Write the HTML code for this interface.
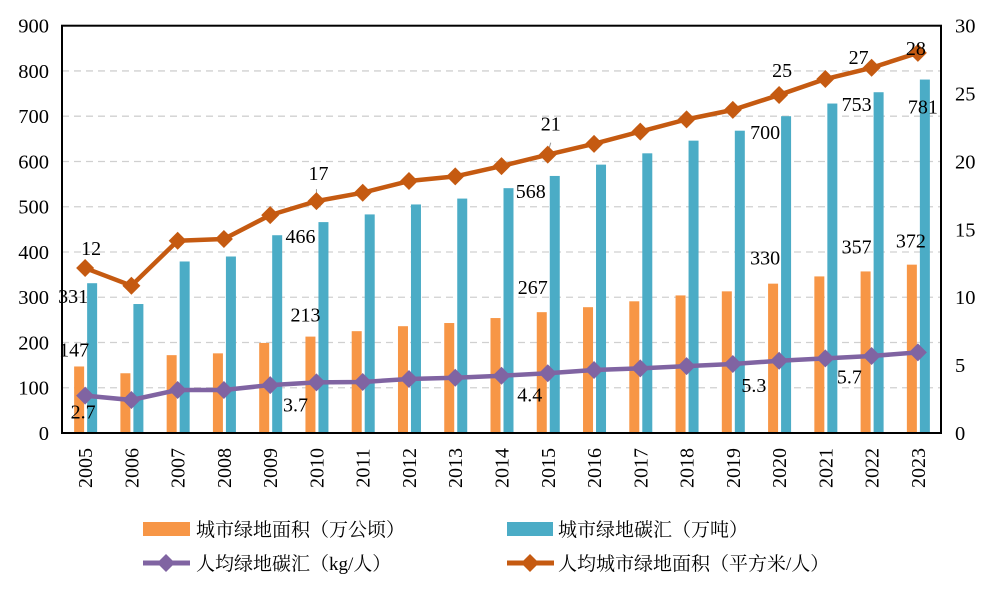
<!DOCTYPE html>
<html><head><meta charset="utf-8"><style>
body{margin:0;background:#fff;}
svg{display:block;font-family:"Liberation Serif","Noto Serif CJK SC",serif;}
</style></head><body>
<svg id="chart" width="994" height="599" viewBox="0 0 994 599" xmlns="http://www.w3.org/2000/svg"></svg>
<script>
const years=["2005","2006","2007","2008","2009","2010","2011","2012","2013","2014","2015","2016","2017","2018","2019","2020","2021","2022","2023"];
const areaValues=[147,132,172,176,199,213,225,236,243,254,267,278,291,304,313,330,346,357,372];
const sinkValues=[331,285,379,390,437,466,483,505,518,541,568,593,618,646,668,700,728,753,781];
const perCapitaSink=[2.75,2.43,3.17,3.17,3.53,3.73,3.76,3.98,4.07,4.22,4.4,4.64,4.76,4.93,5.08,5.32,5.5,5.67,5.94];
const perCapitaArea=[12.15,10.85,14.16,14.29,16.05,17.08,17.7,18.56,18.9,19.66,20.5,21.3,22.2,23.1,23.8,24.9,26.07,26.9,28.0];
const leftTicks=[0,100,200,300,400,500,600,700,800,900];
const rightTicks=[0,5,10,15,20,25,30];
const areaLabels=[[0,"147"],[5,"213"],[10,"267"],[15,"330"],[17,"357"],[18,"372"]];
const sinkLabels=[[0,"331"],[5,"466"],[10,"568"],[15,"700"],[17,"753"],[18,"781"]];
const pcSinkLabels=[[0,"2.7"],[5,"3.7"],[10,"4.4"],[14,"5.3"],[16,"5.7"]];
const pcAreaLabels=[[0,"12"],[5,"17"],[10,"21"],[15,"25"],[17,"27"],[18,"28"]];
// label placement offsets (style, not data): [dx, dy]
const areaOff=[[-11,-10],[-11,-15],[-15,-18],[-14,-19],[-15,-18],[-7,-17]];
const sinkOff=[[-12,20],[-16,21],[-17,22],[-14,23],[-15,19],[5,34]];
const pcSinkOff=[[-2,23],[-21,29],[-18,28],[21,28],[24,25]];
const pcAreaOff=[[6,-13],[2,-21],[3,-24],[3,-18],[-13,-4],[-2,2]];

const NS="http://www.w3.org/2000/svg";
const svg=document.getElementById('chart');
const L=62,R=941,T=25.7,B=433;
const band=(R-L)/years.length;
const xc=i=>L+band*(i+0.5);
const yL=v=>B-(v/900)*(B-T);
const yR=v=>B-(v/30)*(B-T);
function mk(tag,attrs,parent){const e=document.createElementNS(NS,tag);for(const k in attrs)e.setAttribute(k,attrs[k]);(parent||svg).appendChild(e);return e;}
function txt(x,y,s,anchor,size,parent){const t=mk('text',{x:x,y:y,'text-anchor':anchor||'middle','font-size':size||20,fill:'#000'},parent);t.textContent=s;return t;}

leftTicks.forEach(v=>{if(v===0||v===900)return;const g=mk('line',{x1:L,x2:R,y1:yL(v),y2:yL(v),stroke:'#d0d0d0','stroke-width':1.3,'stroke-dasharray':'7,5'});

});
leftTicks.forEach(v=>{const t=txt(L-13,yL(v)+7,String(v),'end',20.5);

});
rightTicks.forEach(v=>{const t=txt(R+14,yR(v)+7,String(v),'start',20.5);

});
years.forEach((y,i)=>{
 const a=mk('rect',{x:xc(i)-11,y:yL(areaValues[i]),width:10,height:B-yL(areaValues[i]),fill:'#F79646'});
 
 
 const s=mk('rect',{x:xc(i)+2,y:yL(sinkValues[i]),width:10,height:B-yL(sinkValues[i]),fill:'#4BACC6'});
 
 
 const lab=txt(0,0,y,'middle',20);
 lab.setAttribute('transform','translate('+(xc(i)+7)+',468) rotate(-90)');
 
 
});
// leader lines for 17 and 21
[[5,0],[10,1]].forEach(([i,k])=>{const x=xc(i),y=yR(perCapitaArea[i]);
 const l=mk('line',{x1:x,y1:y-2,x2:x+(k?3:0),y2:y-12,stroke:'#999','stroke-width':1});
 
 });
function series(vals,color,name){
 const pts=vals.map((v,i)=>xc(i)+','+yR(v)).join(' ');
 const pl=mk('polyline',{points:pts,fill:'none',stroke:color,'stroke-width':4.5,'stroke-linejoin':'round'});
 
 
 vals.forEach((v,i)=>{const x=xc(i),y=yR(v);
  const d=mk('polygon',{points:`${x},${y-9} ${x+9},${y} ${x},${y+9} ${x-9},${y}`,fill:color});
  
  });
}
series(perCapitaSink,'#8064A2','per-capita-sink');
series(perCapitaArea,'#C55A11','per-capita-area');
const fr=mk('rect',{x:L,y:T,width:R-L,height:B-T,fill:'none',stroke:'#000','stroke-width':2});


areaLabels.forEach(([i,s],k)=>{const t=txt(xc(i)+areaOff[k][0],yL(areaValues[i])+areaOff[k][1],s,'middle',20);

});
sinkLabels.forEach(([i,s],k)=>{const t=txt(xc(i)+sinkOff[k][0],yL(sinkValues[i])+sinkOff[k][1],s,'middle',20);

});
pcSinkLabels.forEach(([i,s],k)=>{const t=txt(xc(i)+pcSinkOff[k][0],yR(perCapitaSink[i])+pcSinkOff[k][1],s,'middle',20);

});
pcAreaLabels.forEach(([i,s],k)=>{const t=txt(xc(i)+pcAreaOff[k][0],yR(perCapitaArea[i])+pcAreaOff[k][1],s,'middle',20);

});
</script>
<svg style="position:absolute;left:0;top:0" width="994" height="599">
 <g>
  <rect x="143" y="522" width="47" height="14" fill="#F79646"/>
  <text x="196" y="536" font-size="19" font-family="Liberation Serif,Noto Serif CJK SC,serif">城市绿地面积（万公顷）</text>
 </g>
 <g>
  <rect x="507" y="522" width="46" height="14" fill="#4BACC6"/>
  <text x="558" y="536" font-size="19" font-family="Liberation Serif,Noto Serif CJK SC,serif">城市绿地碳汇（万吨）</text>
 </g>
 <g>
  <line x1="143" x2="190" y1="563" y2="563" stroke="#8064A2" stroke-width="5"/>
  <polygon points="166,554 175,563 166,572 157,563" fill="#8064A2"/>
  <text x="196" y="570" font-size="19" font-family="Liberation Serif,Noto Serif CJK SC,serif">人均绿地碳汇（kg/人）</text>
 </g>
 <g>
  <line x1="507" x2="554" y1="563" y2="563" stroke="#C55A11" stroke-width="5"/>
  <polygon points="530,554 539,563 530,572 521,563" fill="#C55A11"/>
  <text x="558" y="570" font-size="19" font-family="Liberation Serif,Noto Serif CJK SC,serif">人均城市绿地面积（平方米/人）</text>
 </g>
</svg>
</body></html>
